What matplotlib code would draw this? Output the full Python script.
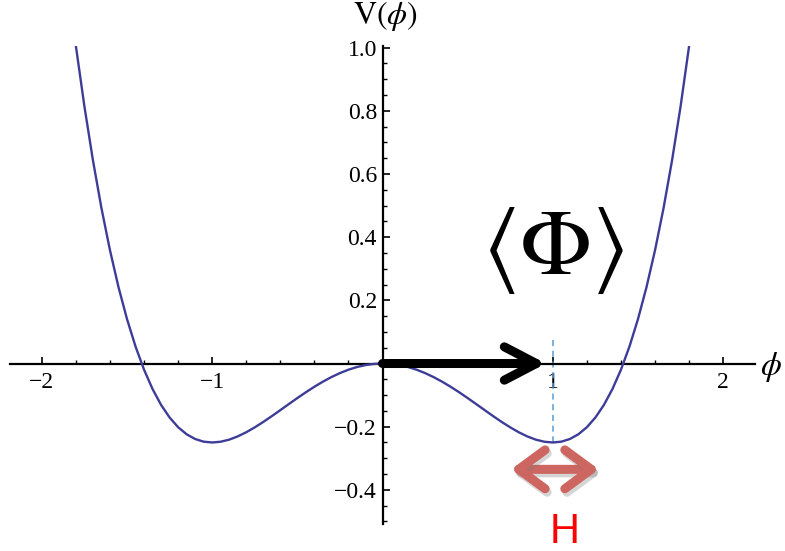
import matplotlib
matplotlib.use("Agg")
import matplotlib.pyplot as plt
import matplotlib.patheffects as pe
from matplotlib.ticker import FixedLocator, NullFormatter

# double-well potential V(phi), sampled every 0.05 on phi >= 0 (symmetric)
phi_half = [0.00, 0.05, 0.10, 0.15, 0.20, 0.25, 0.30, 0.35, 0.40, 0.45,
            0.50, 0.55, 0.60, 0.65, 0.70, 0.75, 0.80, 0.85, 0.90, 0.95,
            1.00, 1.05, 1.10, 1.15, 1.20, 1.25, 1.30, 1.35, 1.40, 1.45,
            1.50, 1.55, 1.60, 1.65, 1.70, 1.75, 1.80]
V_half = [0.0, -0.0013, -0.0050, -0.0111, -0.0196, -0.0303, -0.0430, -0.0575,
          -0.0736, -0.0910, -0.1094, -0.1284, -0.1476, -0.1666, -0.1850,
          -0.2021, -0.2176, -0.2307, -0.2410, -0.2476, -0.2500, -0.2474,
          -0.2390, -0.2240, -0.2016, -0.1709, -0.1310, -0.0809, -0.0196,
          0.0539, 0.1406, 0.2418, 0.3584, 0.4916, 0.6430, 0.8135, 1.0044]

vev = 1.0          # <Phi>, location of the right minimum
v_min = -0.25      # potential at the minimum
h_span = [0.755, 1.27]
h_level = -0.335

x_major = [-2, -1, 1, 2]
x_minor = [-2.0, -1.8, -1.6, -1.4, -1.2, -0.8, -0.6, -0.4, -0.2,
           0.2, 0.4, 0.6, 0.8, 1.2, 1.4, 1.6, 1.8, 2.0]
y_major = [-0.4, -0.2, 0.2, 0.4, 0.6, 0.8, 1.0]
y_minor = [-0.5, -0.45, -0.35, -0.3, -0.25, -0.15, -0.1, -0.05,
           0.05, 0.1, 0.15, 0.25, 0.3, 0.35, 0.45, 0.5, 0.55,
           0.65, 0.7, 0.75, 0.85, 0.9, 0.95]

phi = [-p for p in phi_half[:0:-1]] + phi_half
V = V_half[:0:-1] + V_half

plt.rcParams["mathtext.fontset"] = "stix"
serif = "Liberation Serif"

fig = plt.figure(figsize=(7.85, 5.51), dpi=100)
ax = fig.add_axes([10 / 785, 27 / 551, 745 / 785, 478 / 551])
ax.set_xlim(-2.187, 2.187)
ax.set_ylim(-0.508, 1.005)

for side in ("top", "right"):
    ax.spines[side].set_visible(False)
for side in ("left", "bottom"):
    ax.spines[side].set_position("zero")
    ax.spines[side].set_linewidth(1.6)

ax.xaxis.set_major_locator(FixedLocator(x_major))
ax.xaxis.set_minor_locator(FixedLocator(x_minor))
ax.yaxis.set_major_locator(FixedLocator(y_major))
ax.yaxis.set_minor_locator(FixedLocator(y_minor))
ax.set_xticklabels(["\u22122", "\u22121", "1", "2"])
ax.set_yticklabels(["\u22120.4", "\u22120.2", "0.2", "0.4", "0.6", "0.8", "1.0"])
ax.xaxis.set_minor_formatter(NullFormatter())
ax.yaxis.set_minor_formatter(NullFormatter())
ax.tick_params(which="major", direction="in", length=5, width=1.2,
               labelsize=17, pad=4)
ax.tick_params(which="minor", direction="in", length=3, width=1.0)
ax.tick_params(axis="x", which="major", pad=6)
for lab in ax.get_xticklabels() + ax.get_yticklabels():
    lab.set_fontfamily(serif)

ax.plot(phi, V, color="#3d3d99", lw=1.7, zorder=3,
        solid_joinstyle="round")

# vacuum expectation value marker
ax.plot([vev, vev], [0.073, v_min], color="#5b9bd5", lw=1.1,
        ls=(0, (4, 3)), zorder=2)
ax.annotate("", xy=(vev - 0.04, 0), xytext=(0, 0),
            arrowprops=dict(arrowstyle="->,head_length=1.15,head_width=0.6",
                            lw=6.5, color="black", capstyle="round",
                            joinstyle="round", shrinkA=0, shrinkB=0,
                            mutation_scale=20),
            zorder=4)
ax.text(1.0, 0.36, r"$\langle\Phi\rangle$", fontsize=68,
        ha="center", va="center")

# fluctuation width H
ax.annotate("", xy=(h_span[1], h_level), xytext=(h_span[0], h_level),
            arrowprops=dict(arrowstyle="<->,head_length=0.95,head_width=0.7",
                            lw=6.5, color="#cd6660", capstyle="round",
                            joinstyle="round", shrinkA=0, shrinkB=0,
                            mutation_scale=20,
                            path_effects=[pe.SimpleLineShadow(
                                offset=(1.5, -2.5), shadow_color="#777777",
                                alpha=0.3), pe.Normal()]))
ax.text(1.07, -0.533, "H", color="red", fontsize=30,
        family="Liberation Sans", ha="center", va="center",
        clip_on=False)

ax.text(0.02, 1.10, r"$\mathrm{V}(\phi)$", fontsize=23,
        ha="center", va="center", clip_on=False)
ax.text(2.28, -0.01, r"$\phi$", fontsize=24,
        ha="center", va="center", clip_on=False)

fig.savefig("out.png", dpi=100)
